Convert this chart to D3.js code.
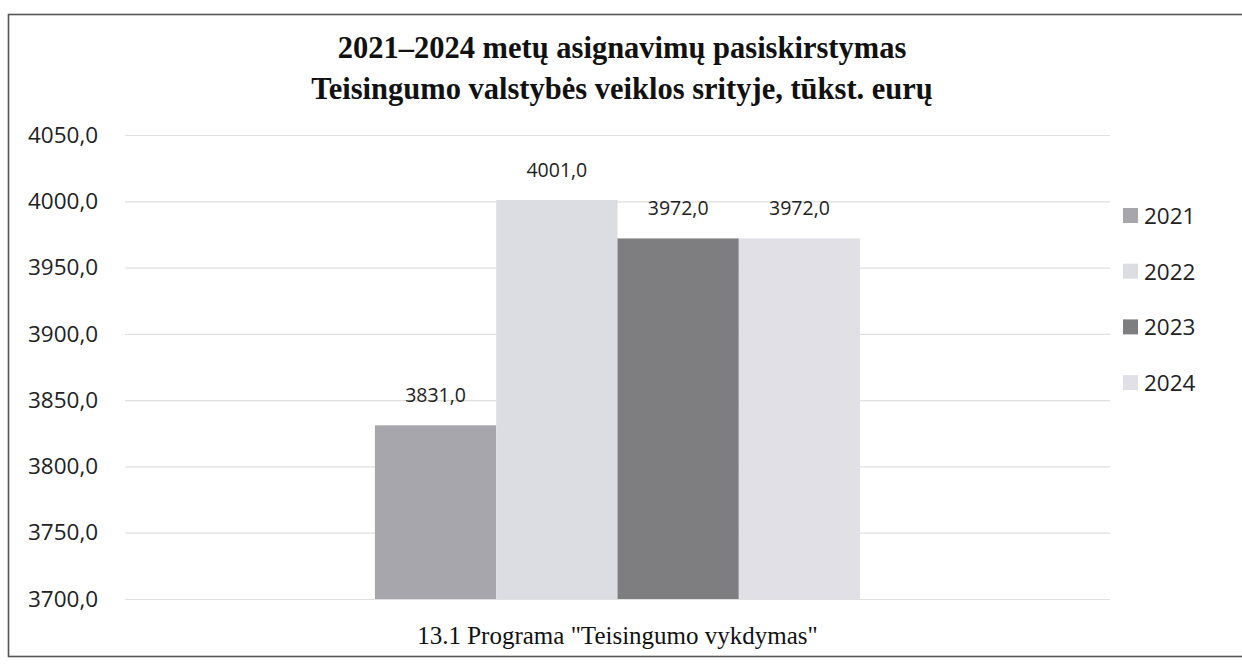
<!DOCTYPE html>
<html>
<head>
<meta charset="utf-8">
<script src="https://cdn.jsdelivr.net/npm/d3@7"></script>
<style>
  body { margin: 0; background: #fff; }
  svg { display: block; }
</style>
</head>
<body>
<svg id="chart" width="1242" height="665"></svg>
<script>
/**
 * Data.
 */
const titleLines = ['2021–2024 metų asignavimų pasiskirstymas',
    'Teisingumo valstybės veiklos srityje, tūkst. eurų'];
const categories = ['13.1 Programa "Teisingumo vykdymas"'];
const years = ['2021', '2022', '2023', '2024'];
const values = [3831.0, 4001.0, 3972.0, 3972.0];
const yTicks = [3700, 3750, 3800, 3850, 3900, 3950, 4000, 4050];
const colors = ['#a6a6ac', '#dcdce3', '#7e7e80', '#e2e0e7'];

/**
 * Visual configs.
 */
const W = 1242, H = 665;
const plot = { left: 125, right: 1110, top: 135, bottom: 599 };
const sans = '"Open Sans", "Noto Sans", "DejaVu Sans", sans-serif';
const serif = '"Liberation Serif", "Times New Roman", serif';
const fmt = v => d3.format('.1f')(v).replace('.', ',');

const svg = d3.select('#chart');

// Frame (right edge falls outside the picture)
svg.append('rect')
    .attr('x', 8.5).attr('y', 14.5)
    .attr('width', W + 20).attr('height', 642)
    .attr('fill', 'none').attr('stroke', '#555').attr('stroke-width', 1.6);

/**
 * D3.
 */
const yScale = d3.scaleLinear().domain([3700, 4050]).range([plot.bottom, plot.top]);
const x0 = d3.scaleBand().domain(categories).range([plot.left, plot.right]).paddingOuter(0.515);
const x1 = d3.scaleBand().domain(years).range([0, x0.bandwidth()]);
const colorScale = d3.scaleOrdinal().domain(years).range(colors);

// Title
svg.append('g').selectAll('text').data(titleLines)
    .enter().append('text')
        .attr('x', 622)
        .attr('y', (d, i) => 58 + i * 41)
        .attr('text-anchor', 'middle')
        .style('font-family', serif)
        .style('font-weight', 'bold')
        .style('font-size', '30.5px')
        .attr('fill', '#111')
        .text(String);

// Grid + y axis labels
const yAxis = d3.axisLeft(yScale).tickValues(yTicks).tickFormat(fmt)
    .tickSize(-(plot.right - plot.left)).tickPadding(25);
const yAxisContainer = svg.append('g')
    .attr('transform', 'translate(' + plot.left + ',0)')
    .call(yAxis);
yAxisContainer.select('.domain').remove();
yAxisContainer.selectAll('.tick line').attr('stroke', '#e0e0e0').attr('stroke-width', 1.2);
yAxisContainer.selectAll('.tick text')
    .attr('text-anchor', 'start')
    .attr('x', 28 - plot.left)
    .style('font-family', sans)
    .style('font-size', '22.5px')
    .attr('fill', '#222');

// Bars
const groups = svg.append('g').selectAll('g.group').data(categories)
    .enter().append('g')
        .attr('class', 'group')
        .attr('transform', d => 'translate(' + x0(d) + ',0)');

const items = groups.selectAll('g.item')
    .data(years.map((y, i) => ({ year: y, value: values[i] })))
    .enter().append('g').attr('class', 'item');

items.append('rect')
    .attr('x', d => x1(d.year))
    .attr('y', d => yScale(d.value))
    .attr('width', x1.bandwidth())
    .attr('height', d => yScale(3700) - yScale(d.value))
    .attr('fill', d => colorScale(d.year));

items.append('text')
    .attr('x', d => x1(d.year) + x1.bandwidth() / 2)
    .attr('y', d => yScale(d.value) - 23)
    .attr('text-anchor', 'middle')
    .style('font-family', sans)
    .style('font-size', '19.5px')
    .attr('fill', '#222')
    .text(d => fmt(d.value));

// Category label
svg.append('g').selectAll('text').data(categories)
    .enter().append('text')
        .attr('x', d => x0(d) + x0.bandwidth() / 2)
        .attr('y', 644)
        .attr('text-anchor', 'middle')
        .style('font-family', serif)
        .style('font-size', '25px')
        .attr('fill', '#111')
        .text(String);

// Legend
const legends = svg.append('g').selectAll('g.legend').data(years)
    .enter().append('g')
        .attr('class', 'legend')
        .attr('transform', (d, i) => 'translate(1123,' + (215 + i * 55.7) + ')');
legends.append('rect')
    .attr('x', 0).attr('y', -7)
    .attr('width', 15).attr('height', 15)
    .attr('fill', d => colorScale(d));
legends.append('text')
    .attr('x', 21).attr('y', 1)
    .attr('dy', '0.35em')
    .style('font-family', sans)
    .style('font-size', '22.5px')
    .attr('fill', '#222')
    .text(String);
</script>
</body>
</html>
